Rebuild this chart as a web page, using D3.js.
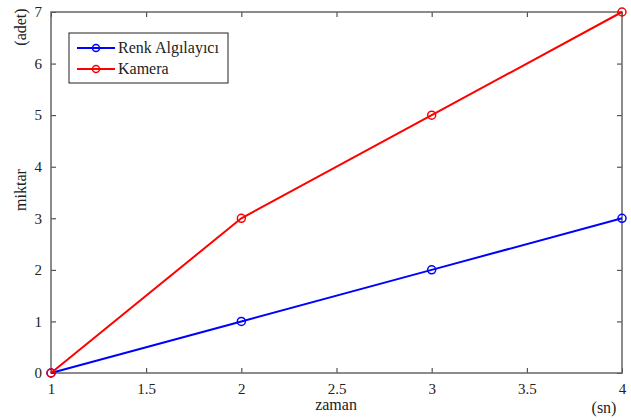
<!DOCTYPE html>
<html>
<head>
<style>
  body { margin: 0; background: #fff; }
</style>
<script src="https://d3js.org/d3.v7.min.js"></script>
</head>
<body>
<svg width="631" height="420"></svg>
<script>
var zaman = [1, 2, 3, 4];
var renk = [0, 1, 2, 3];
var kamera = [0, 3, 5, 7];
var seriesNames = ["Renk Algılayıcı", "Kamera"];
var seriesColors = ["#0000ff", "#ff0000"];
var xTicks = [1, 1.5, 2, 2.5, 3, 3.5, 4];
var yTicks = [0, 1, 2, 3, 4, 5, 6, 7];

var FONT = "'Liberation Serif', 'DejaVu Serif', 'Times New Roman', serif";
var margin = { top: 12, right: 9, bottom: 47, left: 51 };
var width = 631 - margin.left - margin.right;
var height = 420 - margin.top - margin.bottom;

var svg = d3.select("svg").attr("font-family", FONT);
var g = svg.append("g")
    .attr("transform", "translate(" + margin.left + "," + margin.top + ")");

var x = d3.scaleLinear().domain([1, 4]).range([0, width]);
var y = d3.scaleLinear().domain([0, 7]).range([height, 0]);

function styleAxis(sel, showText) {
  sel.attr("font-family", FONT);
  sel.select(".domain").remove();
  sel.selectAll("line").attr("stroke", "#333");
  sel.selectAll("text").attr("font-size", 15).attr("fill", "#222");
  if (!showText) sel.selectAll("text").remove();
}

g.append("g").attr("transform", "translate(0," + height + ")")
  .call(d3.axisBottom(x).tickValues(xTicks).tickSizeInner(-5).tickSizeOuter(0).tickPadding(10).tickFormat(d3.format("")))
  .call(function(s) { styleAxis(s, true); });
g.append("g")
  .call(d3.axisTop(x).tickValues(xTicks).tickSizeInner(-5).tickSizeOuter(0))
  .call(function(s) { styleAxis(s, false); });
g.append("g")
  .call(d3.axisLeft(y).tickValues(yTicks).tickSizeInner(-5).tickSizeOuter(0).tickPadding(9).tickFormat(d3.format("d")))
  .call(function(s) { styleAxis(s, true); });
g.append("g").attr("transform", "translate(" + width + ",0)")
  .call(d3.axisRight(y).tickValues(yTicks).tickSizeInner(-5).tickSizeOuter(0))
  .call(function(s) { styleAxis(s, false); });

g.append("rect")
  .attr("width", width).attr("height", height)
  .attr("fill", "none").attr("stroke", "#666").attr("stroke-width", 1.5);

var seriesData = [renk, kamera];
var line = d3.line()
  .x(function(d, i) { return x(zaman[i]); })
  .y(function(d) { return y(d); });

seriesData.forEach(function(vals, k) {
  g.append("path").datum(vals)
    .attr("fill", "none").attr("stroke", seriesColors[k]).attr("stroke-width", 2)
    .attr("d", line);
  g.selectAll(".pt" + k).data(vals).enter().append("circle")
    .attr("cx", function(d, i) { return x(zaman[i]); })
    .attr("cy", function(d) { return y(d); })
    .attr("r", 4)
    .attr("fill", "none").attr("stroke", seriesColors[k]).attr("stroke-width", 1.5);
});

// legend
var leg = svg.append("g").attr("transform", "translate(69,33)");
leg.append("rect").attr("width", 159).attr("height", 50)
  .attr("fill", "#fff").attr("stroke", "#222").attr("stroke-width", 1);
seriesNames.forEach(function(name, k) {
  var yy = 15 + k * 21;
  leg.append("line").attr("x1", 8).attr("x2", 46).attr("y1", yy).attr("y2", yy)
    .attr("stroke", seriesColors[k]).attr("stroke-width", 2);
  leg.append("circle").attr("cx", 27).attr("cy", yy).attr("r", 3.5)
    .attr("fill", "none").attr("stroke", seriesColors[k]).attr("stroke-width", 1.5);
  leg.append("text").attr("x", 49).attr("y", yy + 5).attr("font-size", 16).attr("fill", "#222").text(name);
});

// axis labels
svg.append("text").attr("font-size", 16).attr("text-anchor", "middle").attr("fill", "#222")
  .attr("transform", "translate(26,190) rotate(-90)").text("miktar");
svg.append("text").attr("font-size", 16).attr("text-anchor", "middle").attr("fill", "#222")
  .attr("transform", "translate(26,27) rotate(-90)").text("(adet)");
svg.append("text").attr("font-size", 16).attr("text-anchor", "middle").attr("fill", "#222")
  .attr("x", 336).attr("y", 410).text("zaman");
svg.append("text").attr("font-size", 16).attr("text-anchor", "middle").attr("fill", "#222")
  .attr("x", 604).attr("y", 413).text("(sn)");
</script>
</body>
</html>
